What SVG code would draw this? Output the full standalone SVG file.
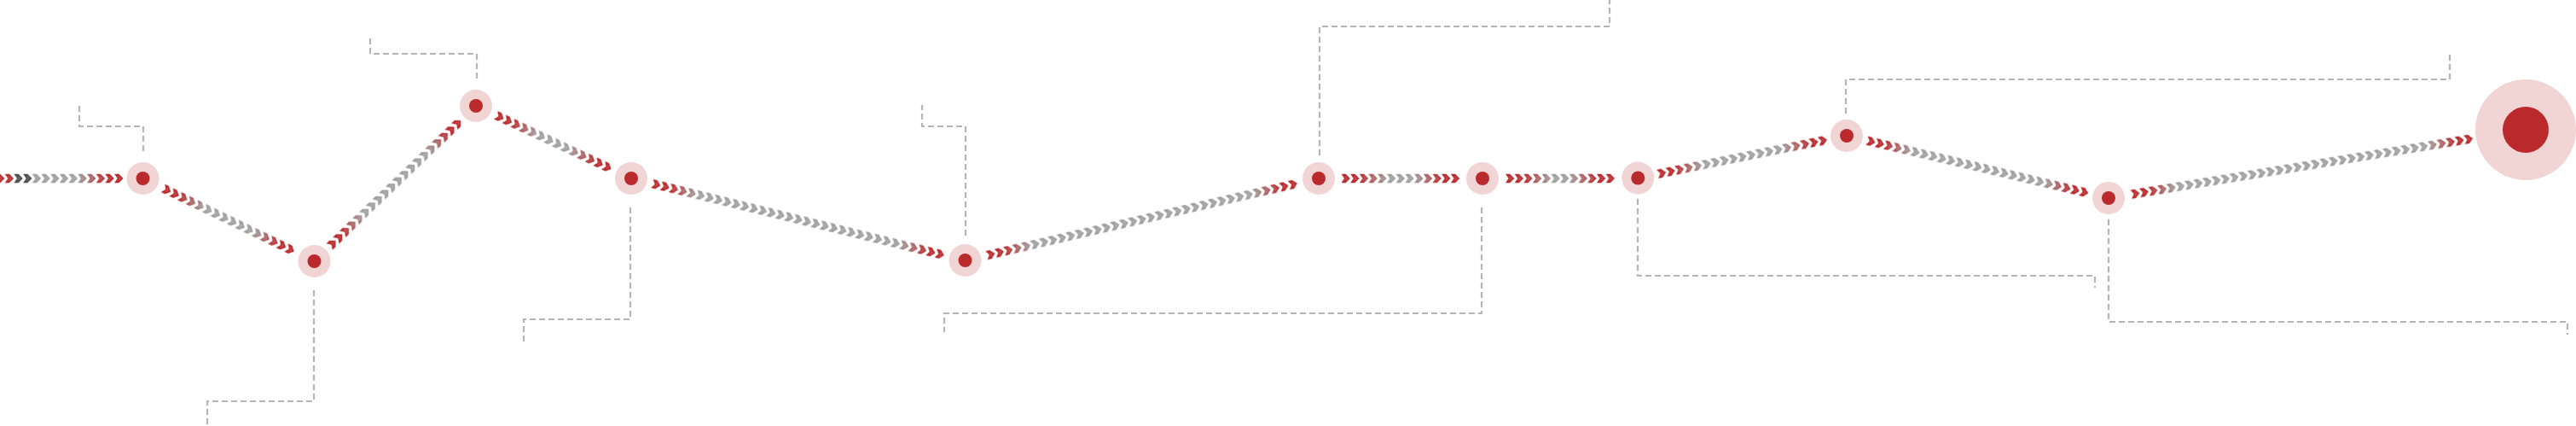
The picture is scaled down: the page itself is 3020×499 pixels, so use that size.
<svg xmlns="http://www.w3.org/2000/svg" width="3020" height="499" viewBox="0 0 3020 499">
<style>
.bg{fill:#ffffff}
.halo{fill:#F1D5D5}
.core{fill:#BA2A2D}
.lead{fill:none;stroke:#B5B5B5;stroke-width:2.2;stroke-dasharray:7 4}
.g{fill:#A0A0A0}
.fs{fill:url(#fadeS)}
.fe{fill:url(#fadeE)}
.red{fill:#BA2A2D}
.dark{fill:#4F4F4F}
</style>
<defs>
<pattern id="chevP" patternUnits="userSpaceOnUse" x="0" y="-6" width="10.7" height="12">
<path d="M0,0.8 H5.2 L10.4,6 L5.2,11.2 H0 L3.6,6 Z" fill="#ffffff"/>
<path d="M4.4,3.6 L6.8,6 L4.4,8.4" fill="none" stroke="#c8c8c8" stroke-width="1"/>
</pattern>
<mask id="chevM" maskUnits="userSpaceOnUse" x="-20" y="-10" width="1000" height="20">
<rect x="0" y="-6" width="1000" height="12" fill="url(#chevP)"/>
</mask>
<linearGradient id="fadeS" x1="0" y1="0" x2="1" y2="0">
<stop offset="0" stop-color="#BA2A2D" stop-opacity="1"/>
<stop offset="0.4" stop-color="#BA2A2D" stop-opacity="1"/>
<stop offset="1" stop-color="#BA2A2D" stop-opacity="0"/>
</linearGradient>
<linearGradient id="fadeE" x1="1" y1="0" x2="0" y2="0">
<stop offset="0" stop-color="#BA2A2D" stop-opacity="1"/>
<stop offset="0.4" stop-color="#BA2A2D" stop-opacity="1"/>
<stop offset="1" stop-color="#BA2A2D" stop-opacity="0"/>
</linearGradient>
</defs>
<rect class="bg" x="0" y="0" width="3020" height="499"/>

<g id="leaders">
<polyline class="lead" points="168,177 168,148 93,148 93,124"/>
<polyline class="lead" points="368,340 368,470 243,470 243,499"/>
<polyline class="lead" points="559,92 559,63 434,63 434,42"/>
<polyline class="lead" points="739,243 739,374 614,374 614,401"/>
<polyline class="lead" points="1132,276 1132,148 1081,148 1081,123"/>
<polyline class="lead" points="1547,182 1547,31 1887,31 1887,0"/>
<polyline class="lead" points="1737,243 1737,367 1107,367 1107,389"/>
<polyline class="lead" points="1920,233 1920,323 2456,323 2456,337"/>
<polyline class="lead" points="2164,133 2164,93 2872,93 2872,63"/>
<polyline class="lead" points="2472,257 2472,377 3010,377 3010,392"/>
</g>

<g id="connectors">
<g transform="translate(-5 209)" mask="url(#chevM)">
<rect class="g" x="0" y="-6" width="149.8" height="12"/>
<rect class="red" x="0" y="-6" width="21.4" height="12"/>
<rect class="dark" x="21.4" y="-6" width="21.4" height="12"/>
<rect class="fe" x="95.8" y="-6" width="54" height="12"/>
</g>
<g transform="translate(167.5 209) rotate(25.76) translate(26 0)" mask="url(#chevM)">
<rect class="g" x="0" y="-6" width="171.2" height="12"/>
<rect class="fs" x="0" y="-6" width="54" height="12"/>
<rect class="fe" x="117.2" y="-6" width="54" height="12"/>
</g>
<g transform="translate(368.5 306) rotate(-43.84) translate(24.4 0)" mask="url(#chevM)">
<rect class="g" x="0" y="-6" width="214" height="12"/>
<rect class="fs" x="0" y="-6" width="54" height="12"/>
<rect class="fe" x="160" y="-6" width="54" height="12"/>
</g>
<g transform="translate(558 124) rotate(25.03) translate(25.5 0)" mask="url(#chevM)">
<rect class="g" x="0" y="-6" width="149.8" height="12"/>
<rect class="fs" x="0" y="-6" width="54" height="12"/>
<rect class="fe" x="95.8" y="-6" width="54" height="12"/>
</g>
<g transform="translate(740 209) rotate(13.78) translate(25 0)" mask="url(#chevM)">
<rect class="g" x="0" y="-6" width="353.1" height="12"/>
<rect class="fs" x="0" y="-6" width="54" height="12"/>
<rect class="fe" x="299.1" y="-6" width="54" height="12"/>
</g>
<g transform="translate(1131.5 305) rotate(-13.04) translate(25.5 0)" mask="url(#chevM)">
<rect class="g" x="0" y="-6" width="374.5" height="12"/>
<rect class="fs" x="0" y="-6" width="54" height="12"/>
<rect class="fe" x="320.5" y="-6" width="54" height="12"/>
</g>
<g transform="translate(1546 209) translate(26.45 0)" mask="url(#chevM)">
<rect class="g" x="0" y="-6" width="139.1" height="12"/>
<rect class="fs" x="0" y="-6" width="54" height="12"/>
<rect class="fe" x="85.1" y="-6" width="54" height="12"/>
</g>
<g transform="translate(1738 209) translate(26.95 0)" mask="url(#chevM)">
<rect class="g" x="0" y="-6" width="128.4" height="12"/>
<rect class="fs" x="0" y="-6" width="54" height="12"/>
<rect class="fe" x="74.4" y="-6" width="54" height="12"/>
</g>
<g transform="translate(1920.3 208.5) rotate(-11.44) translate(23.2 0)" mask="url(#chevM)">
<rect class="g" x="0" y="-6" width="203.3" height="12"/>
<rect class="fs" x="0" y="-6" width="54" height="12"/>
<rect class="fe" x="149.3" y="-6" width="54" height="12"/>
</g>
<g transform="translate(2165 159) rotate(13.38) translate(24 0)" mask="url(#chevM)">
<rect class="g" x="0" y="-6" width="267.5" height="12"/>
<rect class="fs" x="0" y="-6" width="54" height="12"/>
<rect class="fe" x="213.5" y="-6" width="54" height="12"/>
</g>
<g transform="translate(2472 232) rotate(-9.29) translate(26.5 0)" mask="url(#chevM)">
<rect class="g" x="0" y="-6" width="406.6" height="12"/>
<rect class="fs" x="0" y="-6" width="54" height="12"/>
<rect class="fe" x="352.6" y="-6" width="54" height="12"/>
</g>
</g>

<g id="node-a"><circle class="halo" cx="167.5" cy="209" r="19"/><circle class="core" cx="167.5" cy="209" r="8"/></g>
<g id="node-b"><circle class="halo" cx="368.5" cy="306" r="19"/><circle class="core" cx="368.5" cy="306" r="8"/></g>
<g id="node-c"><circle class="halo" cx="558" cy="124" r="19"/><circle class="core" cx="558" cy="124" r="8"/></g>
<g id="node-d"><circle class="halo" cx="740" cy="209" r="19"/><circle class="core" cx="740" cy="209" r="8"/></g>
<g id="node-e"><circle class="halo" cx="1131.5" cy="305" r="19"/><circle class="core" cx="1131.5" cy="305" r="8"/></g>
<g id="node-f"><circle class="halo" cx="1546" cy="209" r="19"/><circle class="core" cx="1546" cy="209" r="8"/></g>
<g id="node-g"><circle class="halo" cx="1738" cy="209" r="19"/><circle class="core" cx="1738" cy="209" r="8"/></g>
<g id="node-h"><circle class="halo" cx="1920.3" cy="208.5" r="19"/><circle class="core" cx="1920.3" cy="208.5" r="8"/></g>
<g id="node-i"><circle class="halo" cx="2165" cy="159" r="19"/><circle class="core" cx="2165" cy="159" r="8"/></g>
<g id="node-j"><circle class="halo" cx="2472" cy="232" r="19"/><circle class="core" cx="2472" cy="232" r="8"/></g>
<g id="node-k"><circle class="halo" cx="2961" cy="152" r="59"/><circle class="core" cx="2961" cy="152" r="27"/></g>
</svg>
